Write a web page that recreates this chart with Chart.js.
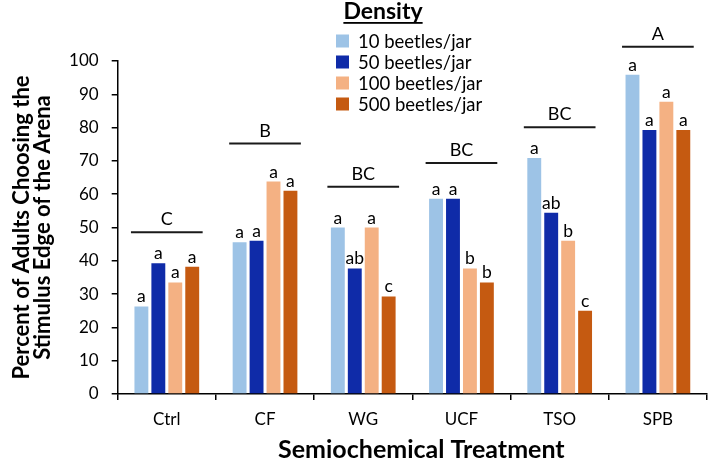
<!DOCTYPE html>
<html>
<head>
<meta charset="utf-8">
<script src="https://cdn.jsdelivr.net/npm/chart.js@4.4.1/dist/chart.umd.min.js"></script>
<style>
  html, body { margin: 0; padding: 0; background: #fff; }
  #wrap { width: 708px; height: 464px; }
</style>
</head>
<body>
<div id="wrap"><canvas id="c" width="708" height="464"></canvas></div>
<script>
// ---- data ----
const categories = ['Ctrl', 'CF', 'WG', 'UCF', 'TSO', 'SPB'];
const seriesNames = ['10 beetles/jar', '50 beetles/jar', '100 beetles/jar', '500 beetles/jar'];
const d10  = [26.3, 45.6, 50.0, 58.6, 70.9, 95.9];
const d50  = [39.3, 46.0, 37.7, 58.6, 54.4, 79.3];
const d100 = [33.5, 63.8, 50.0, 37.7, 46.0, 87.8];
const d500 = [38.2, 61.0, 29.3, 33.5, 25.0, 79.3];
const let10  = ['a', 'a', 'a', 'a', 'a', 'a'];
const let50  = ['a', 'a', 'ab', 'a', 'ab', 'a'];
const let100 = ['a', 'a', 'a', 'b', 'b', 'a'];
const let500 = ['a', 'a', 'c', 'b', 'c', 'a'];
const groupLetters = ['C', 'B', 'BC', 'BC', 'BC', 'A'];
const groupLineY = [48.6, 75.2, 62.2, 69.4, 80.1, 104.3];
const yTicks = [0, 10, 20, 30, 40, 50, 60, 70, 80, 90, 100];
const xTitle = 'Semiochemical Treatment';
const yTitle = ['Percent of Adults Choosing the', 'Stimulus Edge of the Arena'];
const legendTitle = 'Density';

const colors = ['#9DC3E6', '#0F2BA8', '#F4B183', '#C55A11'];
const FONT = 'Lato, "Noto Sans", sans-serif';
const seriesValues = [d10, d50, d100, d500];
const seriesLetters = [let10, let50, let100, let500];

const labelPlugin = {
  id: 'letters',
  afterDatasetsDraw(chart) {
    const ctx = chart.ctx;
    ctx.save();
    ctx.fillStyle = '#000';
    ctx.textAlign = 'center';
    ctx.textBaseline = 'alphabetic';
    ctx.font = '17.5px ' + FONT;
    chart.data.datasets.forEach((ds, di) => {
      const meta = chart.getDatasetMeta(di);
      meta.data.forEach((bar, i) => {
        ctx.fillText(seriesLetters[di][i], bar.x, bar.y - 4);
      });
    });
    // group significance lines
    const xs = chart.scales.x, ys = chart.scales.y;
    const catW = (xs.right - xs.left) / categories.length;
    ctx.strokeStyle = '#1a1a1a';
    ctx.lineWidth = 2;
    ctx.font = '18px ' + FONT;
    groupLetters.forEach((g, i) => {
      const cx = xs.getPixelForValue(i);
      const y = ys.getPixelForValue(groupLineY[i]);
      const hw = catW * 0.365;
      ctx.beginPath();
      ctx.moveTo(cx - hw, y);
      ctx.lineTo(cx + hw, y);
      ctx.stroke();
      ctx.fillText(g, cx, y - 7);
    });
    // x axis title
    ctx.font = 'bold 25px ' + FONT;
    ctx.textBaseline = 'middle';
    ctx.fillText(xTitle, (xs.left + xs.right) / 2 + 9, 450);
    ctx.restore();
  }
};

const legendPlugin = {
  id: 'customLegend',
  afterDraw(chart) {
    const ctx = chart.ctx;
    ctx.save();
    ctx.fillStyle = '#000';
    ctx.font = 'bold 23px ' + FONT;
    ctx.textAlign = 'center';
    ctx.textBaseline = 'alphabetic';
    const tx = 383, ty = 19;
    ctx.fillText(legendTitle, tx, ty);
    const w = ctx.measureText(legendTitle).width;
    ctx.fillRect(tx - w / 2, ty + 3, w, 1.8);
    ctx.textAlign = 'left';
    ctx.textBaseline = 'middle';
    ctx.font = '18.5px ' + FONT;
    chart.data.datasets.forEach((ds, i) => {
      const cy = 41 + i * 21;
      ctx.fillStyle = ds.backgroundColor;
      ctx.fillRect(336, cy - 6.5, 13, 13);
      ctx.fillStyle = '#000';
      ctx.fillText(ds.label, 358, cy + 1);
    });
    ctx.restore();
  }
};

new Chart(document.getElementById('c'), {
  type: 'bar',
  data: {
    labels: categories,
    datasets: seriesNames.map((n, i) => ({
      label: n,
      data: seriesValues[i],
      backgroundColor: colors[i],
      categoryPercentage: 0.69,
      barPercentage: 0.82
    }))
  },
  options: {
    responsive: false,
    animation: false,
    devicePixelRatio: 1,
    layout: { padding: { top: 61, right: 1, bottom: 25, left: 0 } },
    plugins: { legend: { display: false }, tooltip: { enabled: false } },
    scales: {
      x: {
        grid: { drawOnChartArea: false, drawTicks: true, tickLength: 6, color: '#000', lineWidth: 1.5, offset: true },
        border: { color: '#000', width: 1.5 },
        ticks: { color: '#000', font: { family: FONT, size: 17, lineHeight: 1 }, padding: 11 },
        title: { display: false }
      },
      y: {
        min: 0, max: 100,
        afterBuildTicks(scale) { scale.ticks = yTicks.map(v => ({ value: v })); },
        grid: { drawOnChartArea: false, drawTicks: true, tickLength: 6, color: '#000', lineWidth: 1.5 },
        border: { color: '#000', width: 1.5 },
        ticks: { color: '#000', font: { family: FONT, size: 17 }, padding: 13 },
        title: { display: true, text: yTitle, color: '#000',
                 font: { family: FONT, size: 22, weight: 'bold', lineHeight: 0.98 }, padding: { top: 11, bottom: 2 } }
      }
    }
  },
  plugins: [labelPlugin, legendPlugin]
});
</script>
</body>
</html>
